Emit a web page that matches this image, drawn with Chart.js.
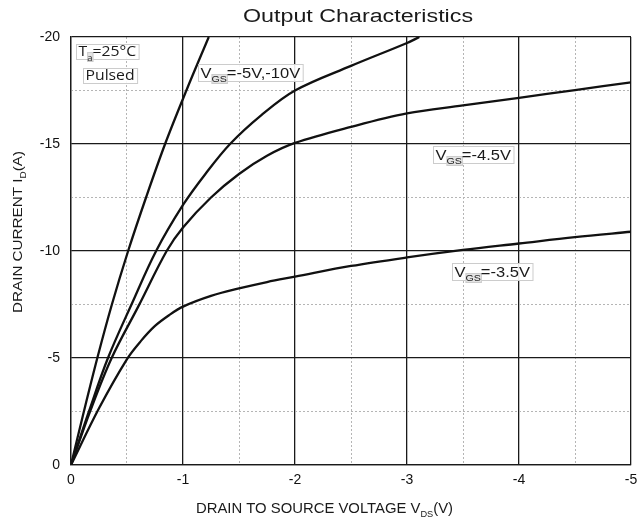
<!DOCTYPE html>
<html>
<head>
<meta charset="utf-8">
<script src="https://cdn.jsdelivr.net/npm/chart.js@4/dist/chart.umd.min.js"></script>
<style>
html,body{margin:0;padding:0;background:#fff;}
#wrap{width:639px;height:524px;position:relative;}
</style>
</head>
<body>
<div id="wrap"><canvas id="c" width="639" height="524"></canvas></div>
<script>
// ---- data (V_DS in volts, I_D in amperes) ----
const vds10 = [0, -0.115, -0.235, -0.365, -0.51, -0.67, -0.84, -1.03, -1.23];
const id10  = [0, -2.5, -5, -7.5, -10, -12.5, -15, -17.5, -20];

const vds5 = [0, -0.16, -0.33, -0.54, -0.76, -1.0, -1.2, -1.42, -1.7, -2.0, -2.5, -3.0, -3.11];
const id5  = [0, -2.5, -5, -7.5, -10, -12.15, -13.6, -15, -16.35, -17.5, -18.65, -19.72, -20];

const vds45 = [0, -0.17, -0.363, -0.6, -0.854, -1.0, -1.25, -1.5, -1.75, -2.0, -2.5, -3.0, -3.5, -4.0, -4.5, -5.0];
const id45  = [0, -2.5, -5, -7.4, -10, -11.1, -12.5, -13.6, -14.45, -15.05, -15.8, -16.43, -16.8, -17.16, -17.52, -17.88];

const vds35 = [0, -0.25, -0.5, -0.625, -0.75, -0.875, -1.0, -1.25, -1.5, -1.75, -2.0, -2.5, -3.0, -3.5, -4.0, -4.5, -5.0];
const id35  = [0, -2.65, -4.95, -5.8, -6.5, -7.0, -7.4, -7.9, -8.25, -8.55, -8.8, -9.3, -9.7, -10.05, -10.35, -10.65, -10.9];

const xTickValues = [0, -1, -2, -3, -4, -5];
const yTickValues = [0, -5, -10, -15, -20];

const titleText = 'Output Characteristics';
const xTitleParts = [{t:'DRAIN TO SOURCE VOLTAGE V'}, {t:'DS', sub:true}, {t:'(V)'}];
const yTitleParts = [{t:'DRAIN CURRENT I'}, {t:'D', sub:true}, {t:'(A)'}];

// annotation labels: anchor (top-left of box) in data coordinates
const notes = [
  {x:-0.045, y:-19.67, parts:[{t:'T'},{t:'a',sub:true},{t:'=25°C'}], style:'ta'},
  {x:-0.107, y:-18.55, parts:[{t:'Pulsed'}], style:'ta'},
  {x:-1.134, y:-18.74, parts:[{t:'V'},{t:'GS',sub:true},{t:'=-5V,-10V'}], style:'vgs'},
  {x:-3.232, y:-14.91, parts:[{t:'V'},{t:'GS',sub:true},{t:'=-4.5V'}], style:'vgs'},
  {x:-3.402, y:-9.44,  parts:[{t:'V'},{t:'GS',sub:true},{t:'=-3.5V'}], style:'vgs'}
];

const SANS = "'Liberation Sans', Arial, sans-serif";

function pts(xs, ys){ return xs.map((v,i)=>({x:v, y:ys[i]})); }

function measureParts(ctx, parts, size, subSize, family){
  return parts.map(p=>{
    ctx.font = (p.sub ? subSize : size) + 'px ' + family;
    return {p, w: ctx.measureText(p.t).width};
  });
}

function drawRich(ctx, x, y, items, size, subSize, family, sx, color){
  let cx = x;
  for (const it of items){
    ctx.font = (it.p.sub ? subSize : size) + 'px ' + family;
    ctx.save();
    ctx.translate(cx, it.p.sub ? y + Math.round(size*0.3) : y);
    ctx.scale(sx, 1);
    ctx.fillStyle = color;
    ctx.textAlign = 'left';
    ctx.textBaseline = 'alphabetic';
    ctx.fillText(it.p.t, 0, 0);
    ctx.restore();
    cx += it.w * sx;
  }
}

const decor = {
  id: 'decor',
  afterDatasetsDraw(chart){
    const ctx = chart.ctx;
    const xs = chart.scales.x, ys = chart.scales.y;
    ctx.save();
    for (const n of notes){
      const px = Math.round(xs.getPixelForValue(n.x));
      const py = Math.round(ys.getPixelForValue(n.y));
      let size, subSize, family, sx, h;
      if (n.style === 'ta'){ size = 15; subSize = 9; family = "'Open Sans', 'Noto Sans', sans-serif"; sx = 1.05; h = 15; }
      else { size = 14; subSize = 9; family = SANS; sx = 1.18; h = 17; }
      const items = measureParts(ctx, n.parts, size, subSize, family);
      const total = items.reduce((a,b)=>a+b.w*sx, 0);
      ctx.fillStyle = 'rgba(255,255,255,0.9)';
      ctx.fillRect(px, py, total + 5, h);
      ctx.strokeStyle = '#cccccc';
      ctx.lineWidth = 1;
      ctx.strokeRect(px + 0.5, py + 0.5, total + 5, h);
      let cx = px + 2.5;
      for (const it of items){
        if (it.p.sub){
          ctx.fillStyle = '#e4e4e4';
          ctx.fillRect(cx, py + h - 7, it.w*sx + 1, 10);
          ctx.strokeStyle = '#cccccc';
          ctx.strokeRect(cx + 0.5, py + h - 6.5, it.w*sx, 9);
        }
        cx += it.w*sx;
      }
      drawRich(ctx, px + 2.5, py + h - 3, items, size, subSize, family, sx, '#1a1a1a');
    }
    ctx.restore();
  },
  afterDraw(chart){
    const ctx = chart.ctx;
    ctx.save();
    ctx.font = '18px ' + SANS;
    const tw = ctx.measureText(titleText).width;
    const tTarget = 230;
    ctx.save();
    ctx.translate(358 - tTarget/2, 22);
    ctx.scale(tTarget/tw, 1);
    ctx.fillStyle = '#1a1a1a';
    ctx.textBaseline = 'alphabetic';
    ctx.fillText(titleText, 0, 0);
    ctx.restore();

    const xi = measureParts(ctx, xTitleParts, 14.5, 9, SANS);
    const xw = xi.reduce((a,b)=>a+b.w,0);
    drawRich(ctx, 196, 513, xi, 14.5, 9, SANS, 257/xw, '#1a1a1a');

    const yi = measureParts(ctx, yTitleParts, 13, 8.5, SANS);
    const yw = yi.reduce((a,b)=>a+b.w,0);
    ctx.save();
    ctx.translate(22, 313);
    ctx.rotate(-Math.PI/2);
    drawRich(ctx, 0, 0, yi, 13, 8.5, SANS, 162/yw, '#1a1a1a');
    ctx.restore();
    ctx.restore();
  }
};

const lineStyle = {
  borderColor: '#111111',
  borderWidth: 2.3,
  pointRadius: 0,
  pointHoverRadius: 0,
  fill: false,
  tension: 0.35,
  showLine: true
};

new Chart(document.getElementById('c'), {
  type: 'scatter',
  data: {
    datasets: [
      Object.assign({label:'VGS=-10V', data: pts(vds10, id10)}, lineStyle),
      Object.assign({label:'VGS=-5V', data: pts(vds5, id5)}, lineStyle),
      Object.assign({label:'VGS=-4.5V', data: pts(vds45, id45)}, lineStyle),
      Object.assign({label:'VGS=-3.5V', data: pts(vds35, id35)}, lineStyle)
    ]
  },
  options: {
    responsive: false,
    animation: false,
    devicePixelRatio: 1,
    layout: { padding: { left: 0, right: 8, top: 37, bottom: 0 } },
    plugins: { legend: {display:false}, tooltip: {enabled:false}, title: {display:false} },
    scales: {
      x: {
        type: 'linear', min: -5, max: 0, reverse: true, position: 'bottom',
        afterBuildTicks: s => { s.ticks = xTickValues.map(v=>({value:v})); },
        ticks: { color:'#111', font:{size:14, family:SANS}, padding:7, maxRotation:0, autoSkip:false,
                 callback: v => (v === 0 ? '0' : String(v)) },
        grid: { color:'#1a1a1a', lineWidth:1.3, drawTicks:false },
        border: { color:'#1a1a1a', width:1.3 },
        afterFit: s => { s.height = 59; s.paddingLeft = 0; s.paddingRight = 0; }
      },
      xMinor: {
        type: 'linear', min: -5, max: 0, reverse: true, position: 'bottom',
        ticks: { display:false, stepSize:0.5 },
        grid: { drawTicks:false, lineWidth:1,
                color: c => (c.tick && Math.abs(c.tick.value % 1) > 0.01) ? '#b5b5b5' : 'rgba(0,0,0,0)' },
        border: { display:false, dash:[2,2] },
        afterFit: s => { s.height = 0; s.paddingLeft = 0; s.paddingRight = 0; }
      },
      y: {
        type: 'linear', min: -20, max: 0, reverse: true, position: 'left',
        afterBuildTicks: s => { s.ticks = yTickValues.map(v=>({value:v})); },
        ticks: { color:'#111', font:{size:14, family:SANS}, padding:11, autoSkip:false,
                 callback: v => (v === 0 ? '0' : String(v)) },
        grid: { color:'#1a1a1a', lineWidth:1.3, drawTicks:false },
        border: { color:'#1a1a1a', width:1.3 },
        afterFit: s => { s.width = 71; s.paddingTop = 0; s.paddingBottom = 0; }
      },
      yMinor: {
        type: 'linear', min: -20, max: 0, reverse: true, position: 'left',
        ticks: { display:false, stepSize:2.5 },
        grid: { drawTicks:false, lineWidth:1,
                color: c => (c.tick && Math.abs(c.tick.value % 5) > 0.01) ? '#b5b5b5' : 'rgba(0,0,0,0)' },
        border: { display:false, dash:[2,2] },
        afterFit: s => { s.width = 0; s.paddingTop = 0; s.paddingBottom = 0; }
      }
    }
  },
  plugins: [decor]
});
</script>
</body>
</html>
